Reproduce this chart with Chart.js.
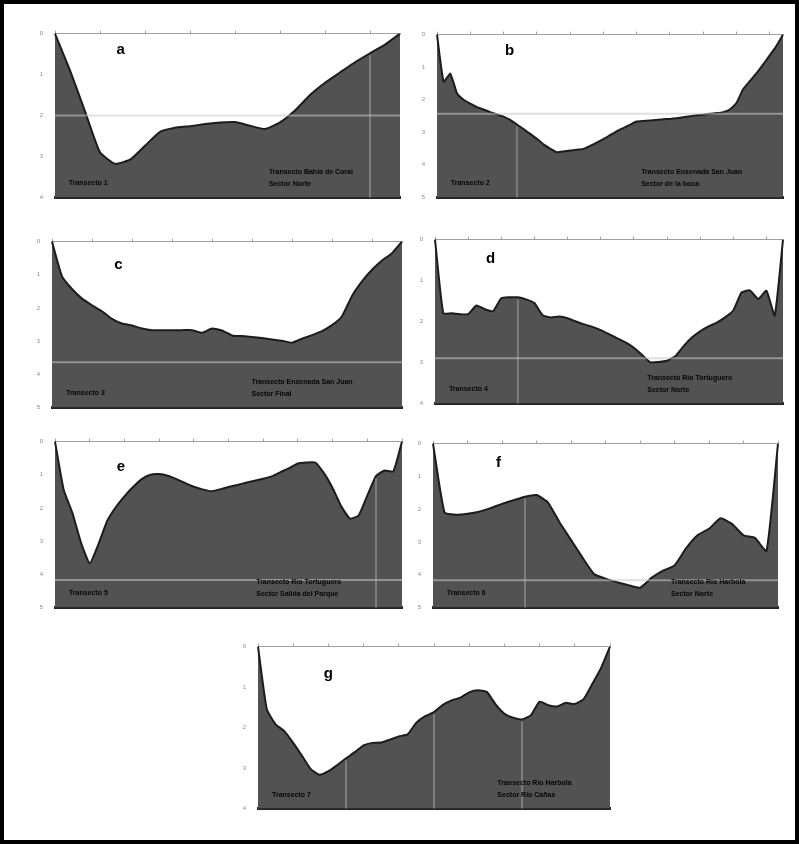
<!DOCTYPE html>
<html>
<head>
<meta charset="utf-8">
<script src="https://cdn.jsdelivr.net/npm/chart.js@4.4.1/dist/chart.umd.min.js"></script>
<style>
  body { margin: 0; background: #fff; }
  #frame { position: relative; width: 799px; height: 844px; box-sizing: border-box; border: 4px solid #000; background: #fff; }
  .panel { position: absolute; }
</style>
</head>
<body>
<div id="frame">
  <div class="panel" id="p0"><canvas id="c0"></canvas></div>
  <div class="panel" id="p1"><canvas id="c1"></canvas></div>
  <div class="panel" id="p2"><canvas id="c2"></canvas></div>
  <div class="panel" id="p3"><canvas id="c3"></canvas></div>
  <div class="panel" id="p4"><canvas id="c4"></canvas></div>
  <div class="panel" id="p5"><canvas id="c5"></canvas></div>
  <div class="panel" id="p6"><canvas id="c6"></canvas></div>
</div>
<script>
// depth profiles (m), left shore -> right shore
const transect1 = [0, -0.9, -1.9, -2.9, -3.18, -3.08, -2.74, -2.4, -2.3, -2.26, -2.21, -2.17,
  -2.16, -2.25, -2.33, -2.17, -1.88, -1.5, -1.2, -0.95, -0.7, -0.48, -0.27, 0];
const transect2 = [0, -1.45, -1.2, -1.8, -2.0, -2.12, -2.23, -2.3, -2.38, -2.45, -2.52, -2.62,
  -2.76, -2.9, -3.05, -3.2, -3.37, -3.5, -3.61, -3.59, -3.56, -3.54, -3.51, -3.42, -3.32, -3.21,
  -3.09, -2.97, -2.87, -2.77, -2.67, -2.65, -2.64, -2.62, -2.6, -2.59, -2.57, -2.54, -2.51, -2.48,
  -2.46, -2.43, -2.41, -2.38, -2.3, -2.1, -1.68, -1.43, -1.19, -0.92, -0.64, -0.35, 0];
const transect3 = [0, -1.05, -1.43, -1.72, -1.92, -2.1, -2.33, -2.47, -2.53, -2.62, -2.67, -2.67,
  -2.67, -2.67, -2.67, -2.75, -2.62, -2.68, -2.83, -2.85, -2.88, -2.91, -2.95, -2.99, -3.05, -2.93,
  -2.82, -2.7, -2.52, -2.25, -1.64, -1.2, -0.85, -0.57, -0.35, 0];
const transect4 = [0, -1.8, -1.8, -1.82, -1.82, -1.61, -1.7, -1.75, -1.43, -1.41, -1.41, -1.46,
  -1.55, -1.85, -1.9, -1.88, -1.92, -2.0, -2.07, -2.13, -2.21, -2.31, -2.41, -2.51, -2.64, -2.82,
  -3.0, -2.99, -2.96, -2.85, -2.6, -2.39, -2.24, -2.12, -2.03, -1.9, -1.73, -1.29, -1.24, -1.45,
  -1.25, -1.85, 0];
const transect5 = [0, -1.45, -2.15, -3.05, -3.67, -3.1, -2.4, -1.98, -1.65, -1.37, -1.13, -1.0,
  -0.98, -1.03, -1.13, -1.25, -1.36, -1.44, -1.5, -1.44, -1.37, -1.31, -1.24, -1.18, -1.12, -1.05,
  -0.92, -0.8, -0.66, -0.63, -0.63, -0.95, -1.4, -1.95, -2.32, -2.23, -1.63, -1.04, -0.87, -0.9, 0];
const transect6 = [0, -2.1, -2.17, -2.14, -2.08, -1.97, -1.84, -1.73, -1.62, -1.57, -1.8, -2.4,
  -2.94, -3.48, -3.98, -4.12, -4.23, -4.32, -4.4, -4.1, -3.88, -3.72, -3.2, -2.8, -2.6, -2.28,
  -2.45, -2.8, -2.88, -3.28, 0];
const transect7 = [0, -1.55, -1.92, -2.09, -2.38, -2.7, -3.03, -3.17, -3.08, -2.93, -2.76, -2.61,
  -2.44, -2.38, -2.37, -2.3, -2.22, -2.17, -1.88, -1.72, -1.62, -1.44, -1.33, -1.26, -1.13, -1.08,
  -1.12, -1.43, -1.66, -1.76, -1.8, -1.7, -1.36, -1.45, -1.48, -1.39, -1.42, -1.3, -0.92, -0.52, 0];

const profiles = [transect1, transect2, transect3, transect4, transect5, transect6, transect7];
const axisMin = [-4, -5, -5, -4, -5, -5, -4];
const letters = ['a', 'b', 'c', 'd', 'e', 'f', 'g'];
const leftNotes = ['Transecto 1', 'Transecto 2', 'Transecto 3', 'Transecto 4', 'Transecto 5', 'Transecto 6', 'Transecto 7'];
const rightNotes = [
  ['Transecto Bahía de Coral', 'Sector Norte'],
  ['Transecto Ensenada San Juan', 'Sector de la boca'],
  ['Transecto Ensenada San Juan', 'Sector Final'],
  ['Transecto Río Tortuguero', 'Sector Norte'],
  ['Transecto Río Tortuguero', 'Sector Salida del Parque'],
  ['Transecto Río Harbola', 'Sector Norte'],
  ['Transecto Río Harbola', 'Sector Río Cañas']
];
// light reference levels and vertical guides seen over the fill
const guideLevel = [-2.0, -2.43, -3.64, -2.9, -4.17, -4.17, null];
const guideIdx = [[21], [12], [], [10], [37], [8], [10, 20, 30]];

// plot-area boxes on the page: left, top, right, bottom
const boxes = [
  [55, 32, 400, 202], [437, 33, 783, 202],
  [52, 240, 402, 412], [435, 238, 783, 408],
  [55, 440, 402, 612], [433, 442, 778, 612],
  [258, 645, 610, 813]
];
const letterPos = [[0.19, 0.1], [0.21, 0.1], [0.19, 0.14], [0.16, 0.12], [0.19, 0.15], [0.19, 0.12], [0.2, 0.17]];
const notePos = [0.62, 0.59, 0.57, 0.61, 0.58, 0.69, 0.68];

const Y_W = 20, X_H = 6, PAD_R = 2, PAD_B = 3;

const overlay = {
  id: 'overlay',
  afterDatasetsDraw(chart, args, opts) {
    const ctx = chart.ctx, a = chart.chartArea, x = chart.scales.x, y = chart.scales.y;
    ctx.save();
    if (opts.level !== null) {
      const py = y.getPixelForValue(opts.level);
      ctx.strokeStyle = 'rgba(200,200,200,0.55)';
      ctx.lineWidth = 2;
      ctx.beginPath(); ctx.moveTo(a.left, py); ctx.lineTo(a.right, py); ctx.stroke();
    }
    ctx.strokeStyle = 'rgba(190,190,190,0.4)';
    ctx.lineWidth = 2;
    opts.verticals.forEach(function (i) {
      const px = x.getPixelForValue(i);
      const py = y.getPixelForValue(chart.data.datasets[0].data[i]);
      ctx.beginPath(); ctx.moveTo(px, py + 2); ctx.lineTo(px, a.bottom); ctx.stroke();
    });
    const w = a.right - a.left, h = a.bottom - a.top;
    ctx.fillStyle = '#000';
    ctx.font = 'bold 15px "Liberation Sans", Arial, sans-serif';
    ctx.textAlign = 'center'; ctx.textBaseline = 'middle';
    ctx.fillText(opts.letter, a.left + w * opts.lp[0], a.top + h * opts.lp[1]);
    ctx.font = 'bold 7px "Liberation Sans", Arial, sans-serif';
    ctx.textAlign = 'left';
    ctx.fillStyle = '#050505';
    ctx.fillText(opts.left, a.left + w * 0.04, a.top + h * 0.915);
    ctx.fillText(opts.right[0], a.left + w * opts.np, a.top + h * 0.845);
    ctx.fillText(opts.right[1], a.left + w * opts.np, a.top + h * 0.92);
    ctx.restore();
  }
};

profiles.forEach(function (data, k) {
  const b = boxes[k];
  const div = document.getElementById('p' + k);
  div.style.left = (b[0] - Y_W - 4) + 'px';
  div.style.top = (b[1] - X_H - 4) + 'px';
  div.style.width = (b[2] - b[0] + Y_W + PAD_R) + 'px';
  div.style.height = (b[3] - b[1] + X_H + PAD_B) + 'px';

  new Chart(document.getElementById('c' + k), {
    type: 'line',
    data: {
      labels: data.map(function (v, i) { return String(i); }),
      datasets: [{
        data: data,
        fill: 'start',
        backgroundColor: '#525252',
        borderColor: '#1c1c1c',
        borderWidth: 2,
        pointRadius: 0,
        tension: 0.15
      }]
    },
    options: {
      responsive: true,
      maintainAspectRatio: false,
      animation: false,
      layout: { padding: { right: PAD_R, bottom: PAD_B, top: 0, left: 0 } },
      plugins: {
        legend: { display: false },
        tooltip: { enabled: false },
        overlay: {
          level: guideLevel[k], verticals: guideIdx[k], letter: letters[k],
          lp: letterPos[k], left: leftNotes[k], right: rightNotes[k], np: notePos[k]
        }
      },
      scales: {
        x: {
          position: 'top',
          offset: false,
          afterFit: function (s) { s.height = X_H; },
          border: { color: '#a0a0a0', dash: [2, 2], width: 1 },
          grid: { drawOnChartArea: false, tickLength: 3, color: '#a0a0a0' },
          ticks: { display: true, color: 'rgba(0,0,0,0)', font: { size: 1 }, padding: 0, maxRotation: 0, autoSkip: true, maxTicksLimit: 11 }
        },
        x2: {
          position: 'bottom',
          type: 'category',
          offset: false,
          afterFit: function (s) { s.height = 0; },
          border: { color: '#262626', width: 3 },
          grid: { display: false },
          ticks: { display: false }
        },
        y: {
          min: axisMin[k],
          max: 0,
          afterFit: function (s) { s.width = Y_W; },
          border: { color: '#3a3a3a', width: 1 },
          grid: { display: false },
          ticks: {
            stepSize: 1,
            color: '#8a8a8a',
            padding: 4,
            font: { size: 6, family: 'Liberation Sans' },
            callback: function (v) { return String(Math.abs(v)); }
          }
        }
      }
    },
    plugins: [overlay]
  });
});
</script>
</body>
</html>
